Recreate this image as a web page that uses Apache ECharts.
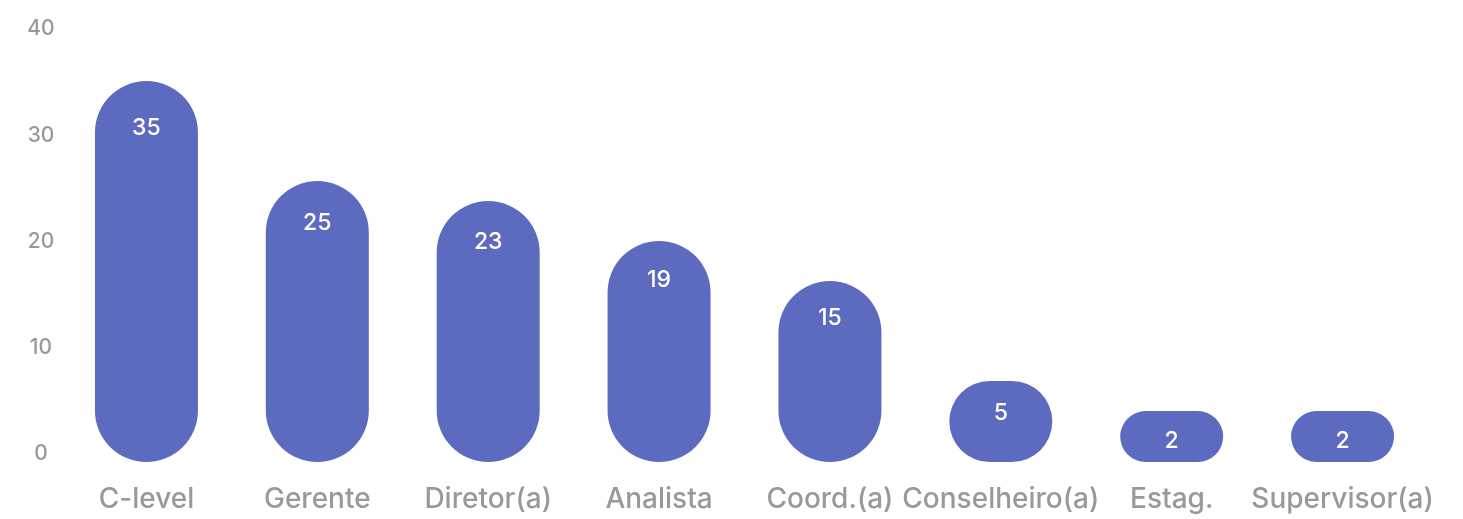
<!DOCTYPE html>
<html>
<head>
<meta charset="utf-8">
<script src="https://cdn.jsdelivr.net/npm/echarts@6/dist/echarts.min.js"></script>
<style>
  html, body { margin: 0; padding: 0; background: #ffffff; }
  #chart { width: 1463px; height: 519px; }
</style>
</head>
<body>
<div id="chart"></div>
<script>
// Respondents by role
const categories = ['C-level', 'Gerente', 'Diretor(a)', 'Analista', 'Coord.(a)', 'Conselheiro(a)', 'Estag.', 'Supervisor(a)'];
const counts = [35, 25, 23, 19, 15, 5, 2, 2];
const yTicks = [0, 10, 20, 30, 40];

const FONT = 'Inter, "Helvetica Neue", Arial, sans-serif';
const GRAY = '#999999';
const BAR_COLOR = '#5c6bc0';

const chart = echarts.init(document.getElementById('chart'), null, { renderer: 'canvas' });

const option = {
  animation: false,
  grid: [
    // pill bars
    { left: 61, right: 35, top: 27, bottom: 57 },
    // value scale shown on the left
    { left: 61, right: 35, top: 29, bottom: 65 }
  ],
  xAxis: [
    {
      type: 'category', gridIndex: 0, data: categories,
      axisLine: { show: false }, axisTick: { show: false },
      axisLabel: { color: GRAY, fontSize: 28, fontWeight: 500, fontFamily: FONT, margin: 24, interval: 0 }
    },
    { type: 'category', gridIndex: 1, data: categories, show: false }
  ],
  yAxis: [
    // bar scale: the rounded base sits a little below zero
    { type: 'value', gridIndex: 0, min: -3.1, max: 40.4, startValue: -3.1, show: false },
    {
      type: 'value', gridIndex: 1,
      min: yTicks[0], max: yTicks[yTicks.length - 1], interval: yTicks[1] - yTicks[0],
      splitLine: { show: false }, axisLine: { show: false }, axisTick: { show: false },
      axisLabel: { color: GRAY, fontSize: 21, fontWeight: 500, fontFamily: FONT, align: 'center', margin: 20 }
    }
  ],
  series: [{
    type: 'bar',
    xAxisIndex: 0, yAxisIndex: 0,
    data: counts.map(v => ({ value: v, label: { distance: 18 + v / 2 } })),
    barWidth: 103,
    itemStyle: { color: BAR_COLOR, borderRadius: 52 },
    label: {
      show: true, position: 'insideTop',
      color: '#ffffff', fontSize: 23, fontWeight: 500, fontFamily: FONT
    }
  }]
};

chart.setOption(option);
</script>
</body>
</html>
